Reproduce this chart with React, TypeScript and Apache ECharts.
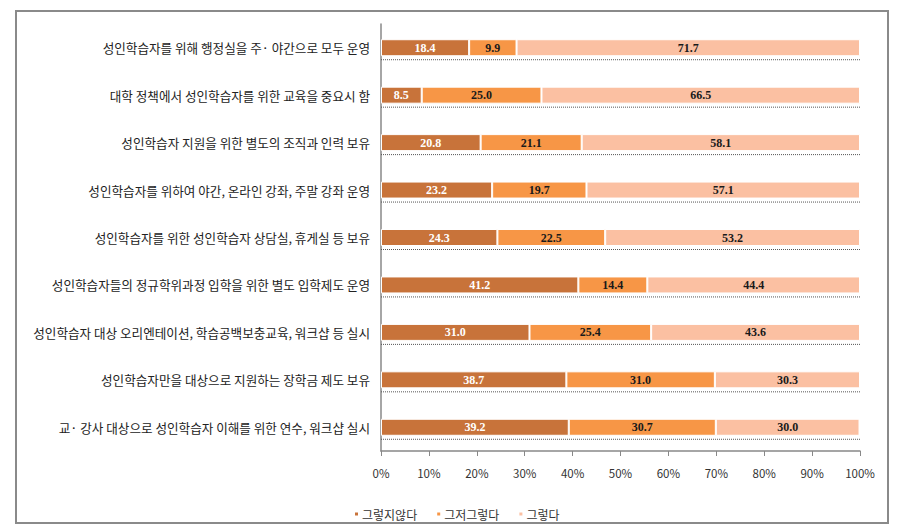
import React, { useEffect, useRef } from "react";
import * as echarts from "echarts";

const categories = [
  "성인학습자를 위해 행정실을 주· 야간으로 모두 운영",
  "대학 정책에서 성인학습자를 위한 교육을 중요시 함",
  "성인학습자 지원을 위한 별도의 조직과 인력 보유",
  "성인학습자를 위하여 야간, 온라인 강좌, 주말 강좌 운영",
  "성인학습자를 위한 성인학습자 상담실, 휴게실 등 보유",
  "성인학습자들의 정규학위과정 입학을 위한 별도 입학제도 운영",
  "성인학습자 대상 오리엔테이션, 학습공백보충교육, 워크샵 등 실시",
  "성인학습자만을 대상으로 지원하는 장학금 제도 보유",
  "교· 강사 대상으로 성인학습자 이해를 위한 연수, 워크샵 실시",
];
const seriesNames = ["그렇지않다", "그저그렇다", "그렇다"];
const disagree = [18.4, 8.5, 20.8, 23.2, 24.3, 41.2, 31.0, 38.7, 39.2];
const neutral = [9.9, 25.0, 21.1, 19.7, 22.5, 14.4, 25.4, 31.0, 30.7];
const agree = [71.7, 66.5, 58.1, 57.1, 53.2, 44.4, 43.6, 30.3, 30.0];
const colors = ["#C8733A", "#F79646", "#FBC0A2"];
const labelColors = ["#ffffff", "#1a1a1a", "#1a1a1a"];

export default function App() {
  const ref = useRef<HTMLDivElement>(null);
  useEffect(() => {
    if (!ref.current) return;
    const chart = echarts.init(ref.current, null, { renderer: "svg" });
    const values = [disagree, neutral, agree];
    const barSeries = values.map((vals, i) => ({
      name: seriesNames[i],
      type: "bar",
      stack: "total",
      barWidth: 17,
      data: vals,
      itemStyle: { color: colors[i], borderColor: "#ffffff", borderWidth: 1 },
      label: {
        show: true,
        position: "inside",
        formatter: (p: any) => p.value.toFixed(1),
        color: labelColors[i],
        fontFamily: "Liberation Serif",
        fontWeight: "bold",
        fontSize: 12,
      },
    }));
    const dotted = {
      type: "custom",
      silent: true,
      data: categories.map((_, i) => [i]),
      renderItem: (params: any, api: any) => {
        const idx = api.value(0);
        const p0 = api.coord([0, idx]);
        const p1 = api.coord([100, idx]);
        return {
          type: "line",
          shape: { x1: p0[0], y1: p0[1] + 12, x2: p1[0], y2: p1[1] + 12 },
          style: { stroke: "#555555", lineWidth: 1, lineDash: [1, 1] },
        };
      },
      z: 1,
    };
    chart.setOption({
      animation: false,
      backgroundColor: "#ffffff",
      grid: { left: 381, right: 42, top: 24, bottom: 80 },
      legend: {
        left: 348,
        top: 503,
        itemWidth: 5,
        itemHeight: 5,
        itemGap: 18,
        icon: "rect",
        data: seriesNames,
        textStyle: { fontFamily: "Noto Sans CJK KR", fontSize: 12, color: "#333", padding: [0, 0, 0, -2] },
      },
      xAxis: {
        type: "value",
        min: 0,
        max: 100,
        interval: 10,
        axisLine: { show: true, lineStyle: { color: "#888", width: 1.5 } },
        axisTick: { show: true, length: 5, lineStyle: { color: "#888" } },
        splitLine: { show: false },
        axisLabel: {
          formatter: "{value}%",
          margin: 16,
          fontFamily: "Noto Sans CJK KR",
          fontSize: 11.5,
          color: "#333",
        },
      },
      yAxis: {
        type: "category",
        inverse: true,
        data: categories,
        axisLine: { show: true, lineStyle: { color: "#888", width: 1.5 } },
        axisTick: { show: false },
        axisLabel: {
          margin: 11,
          fontFamily: "Noto Sans CJK KR",
          fontSize: 12.6,
          color: "#222",
        },
      },
      series: [...barSeries, dotted],
    });
    return () => chart.dispose();
  }, []);
  return (
    <div
      style={{
        position: "fixed",
        left: 0,
        top: 0,
        width: 902,
        height: 531,
        background: "#fff",
      }}
    >
      <div ref={ref} style={{ width: 902, height: 531 }} />
      <div
        style={{
          position: "absolute",
          left: 15,
          top: 10,
          width: 874,
          height: 514,
          border: "2px solid #8a8a8a",
          boxSizing: "border-box",
          pointerEvents: "none",
        }}
      />
    </div>
  );
}
